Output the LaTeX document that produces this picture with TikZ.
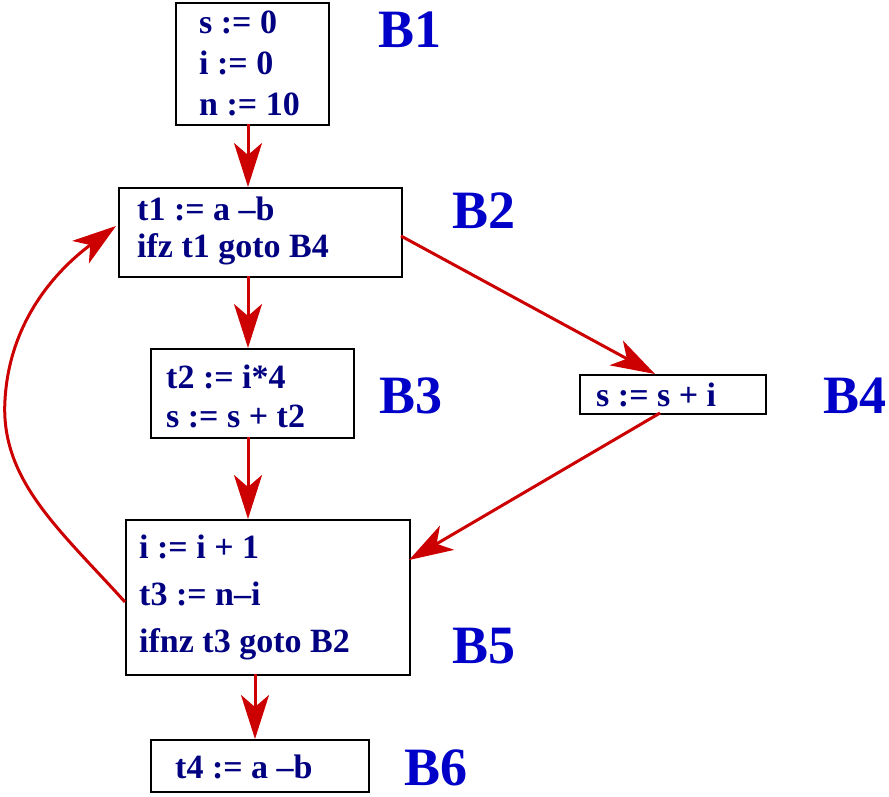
\documentclass[tikz,border=0pt]{standalone}
\usepackage{fontspec}
\setmainfont{Liberation Serif}
\usetikzlibrary{arrows.meta}
\definecolor{txt}{RGB}{0,0,128}
\definecolor{lbl}{RGB}{0,0,200}
\definecolor{arr}{RGB}{204,0,0}
\begin{document}
\begin{tikzpicture}[x=1pt,y=-1pt,
 blk/.style={draw=black,line width=1.5pt,anchor=north west,inner sep=0pt},
 tx/.style={anchor=west,text=txt,align=left,inner sep=0pt},
 lab/.style={text=lbl,font=\fontsize{54}{54}\selectfont\bfseries,inner sep=0pt},
 con/.style={draw=arr,line width=3pt,-{Stealth[length=44pt,width=28pt,inset=12pt]}}]
\useasboundingbox (0,0) rectangle (889,796);
\node[blk,minimum width=153,minimum height=122] (b1) at (175,2) {};
\node[tx,font=\fontsize{34}{41}\selectfont\bfseries] (b1t) at (199,63) {s := 0\\ i := 0\\ n := 10};
\node[blk,minimum width=283,minimum height=89] (b2) at (118,187) {};
\node[tx,font=\fontsize{34}{37}\selectfont\bfseries] (b2t) at (137,231) {t1 := a –b\\ ifz t1 goto B4};
\node[blk,minimum width=203,minimum height=89] (b3) at (150,348) {};
\node[tx,font=\fontsize{34}{39}\selectfont\bfseries] (b3t) at (166,396) {t2 := i*4\\ s := s + t2};
\node[blk,minimum width=186,minimum height=39] (b4) at (579,374) {};
\node[tx,font=\fontsize{34}{39}\selectfont\bfseries] (b4t) at (596,395) {s := s + i};
\node[blk,minimum width=284,minimum height=155] (b5) at (125,519) {};
\node[tx,font=\fontsize{34}{47}\selectfont\bfseries] (b5t) at (139,597) {i := i + 1\\ t3 := n–i\\ ifnz t3 goto B2};
\node[blk,minimum width=218,minimum height=52] (b6) at (150,739) {};
\node[tx,font=\fontsize{34}{39}\selectfont\bfseries] (b6t) at (175,767) {t4 := a –b};
\node[lab] (l1) at (410,30) {B1};
\node[lab] (l2) at (484,211) {B2};
\node[lab] (l3) at (411,396) {B3};
\node[lab] (l4) at (855,396) {B4};
\node[lab] (l5) at (484,646) {B5};
\node[lab] (l6) at (436,768) {B6};
\draw[con] (248,124) -- (248,187);
\draw[con] (248,276) -- (248,348);
\draw[con] (248,437) -- (248,519);
\draw[con] (255,674) -- (255,739);
\draw[con] (401,236) -- (655,374);
\draw[con] (660,413) -- (409,560);
\draw[con] (125,602) .. controls (60,530) and (0,480) .. (5,400) .. controls (10,310) and (70,260) .. (116,226);
\end{tikzpicture}
\end{document}
